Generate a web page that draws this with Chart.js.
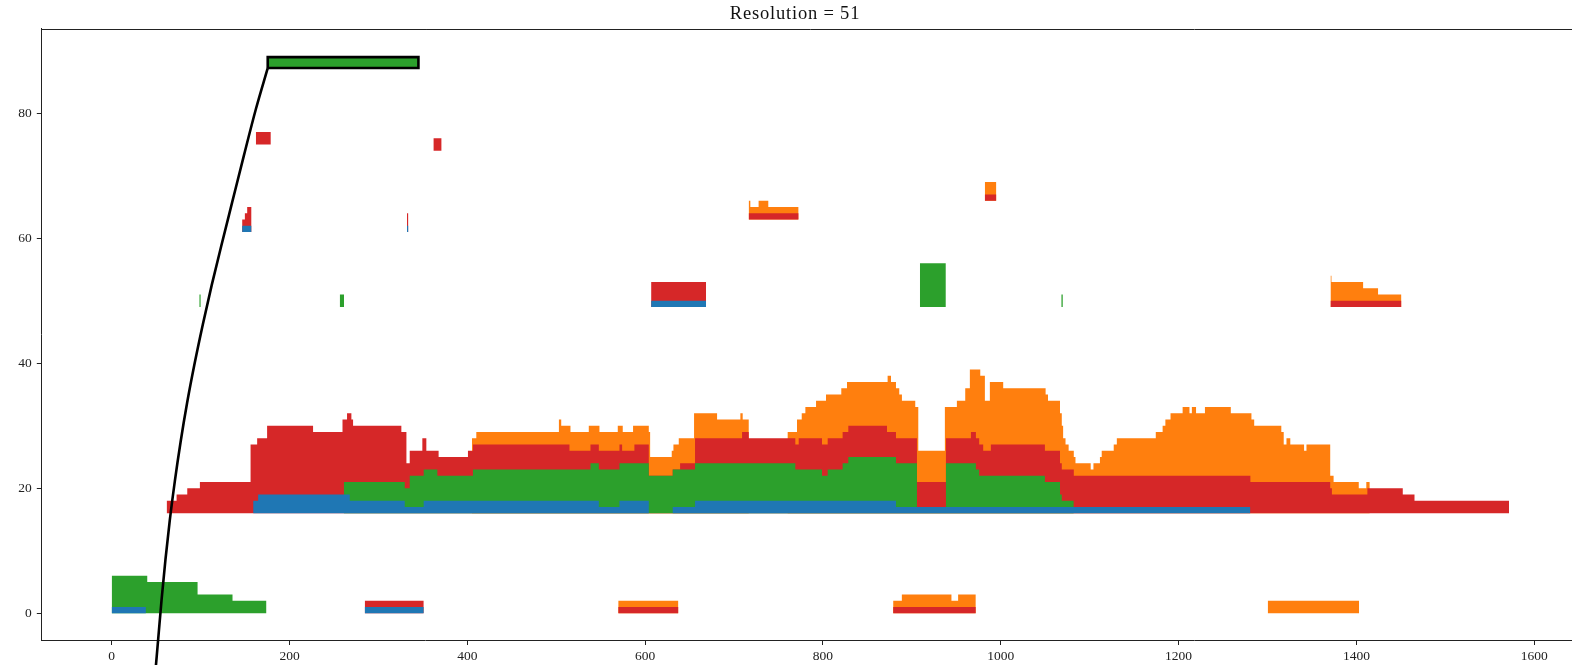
<!DOCTYPE html>
<html>
<head>
<meta charset="utf-8">
<title>Resolution = 51</title>
<script src="https://cdn.jsdelivr.net/npm/chart.js@4.4.1/dist/chart.umd.min.js"></script>
<style>
    html, body { margin: 0; padding: 0; background: #fff; overflow: hidden; }
    #wrap { width: 1590px; height: 665px; }
</style>
</head>
<body>
<div id="wrap"><canvas id="chart" width="1590" height="665"></canvas></div>
<script>
// Step series: each [x, level] holds its level until the next x; the last pair closes the run.
// Levels are the top edge of each layer, stacked blue < green < red < orange over the band base.

// main band, base 16
const mainBlue = [[159.1, 18], [164.7, 19], [267.8, 18], [329.6, 17], [350.9, 18], [547.9, 17], [571.1, 18],
    [604.1, 16], [631, 17], [656.1, 18], [882.1, 17], [1280.7, 17]];
const mainGreen = [[261, 21], [329.6, 20], [335.2, 22], [350.9, 23], [366.3, 22], [406.3, 23], [538.5, 24],
    [547.9, 23], [571.1, 24], [604.1, 22], [631, 23], [656.1, 24], [768.9, 23], [798.9, 22], [805.3, 23],
    [822.1, 24], [828.5, 25], [882.1, 24], [905.7, 17], [938.3, 24], [972, 23], [975.7, 22], [1049.6, 21],
    [1066.6, 19], [1068.6, 18], [1082.1, 18]];
const mainRed = [[61.8, 18], [73, 19], [85, 20], [99.2, 21], [156.2, 27], [163.6, 28], [174.8, 30], [226.5, 29],
    [259.6, 31], [264.7, 32], [269.6, 31], [271.5, 30], [325.8, 29], [331.5, 24], [335.2, 26], [349.4, 28],
    [353.9, 26], [367.7, 25], [400.7, 26], [406.3, 27], [514.9, 26], [538.5, 27], [547.9, 26], [571.1, 27],
    [574.1, 26], [587.9, 27], [604.1, 22], [631, 23], [639.3, 24], [656.1, 28], [709, 29], [716.5, 28],
    [768.9, 27], [772.7, 28], [798.9, 27], [805.3, 28], [822.1, 29], [828.5, 30], [872, 29], [882.1, 28],
    [905.7, 21], [938.3, 28], [966.4, 29], [972, 28], [975.7, 27], [980.2, 26], [988.8, 27], [1049.6, 26],
    [1066.6, 24], [1068.6, 23], [1082.1, 22], [1280.7, 21], [1370.5, 20], [1372.4, 19], [1412.3, 20],
    [1452.1, 19], [1465.3, 18], [1571.6, 18]];
const mainOrange = [[405.2, 28], [410.1, 29], [503, 31], [505.6, 30], [516, 29], [536.6, 30], [548.6, 29],
    [569.2, 30], [574.8, 29], [586.4, 30], [604.1, 29], [605.6, 25], [629.9, 26], [631.8, 27], [637.8, 28],
    [655, 32], [680.9, 31], [707.1, 32], [709.7, 31], [716.5, 16], [760.3, 29], [770.8, 31], [776.1, 32],
    [780.2, 33], [792.2, 34], [803.4, 35], [820.6, 36], [827, 37], [872.7, 38], [876.5, 37], [882.1, 36],
    [885.8, 35], [888.8, 34], [903.8, 33], [907.2, 26], [937.1, 33], [950.6, 34], [960, 36], [965.2, 39],
    [976.9, 38], [982.1, 34], [987.7, 37], [1002.7, 36], [1050.4, 35], [1053.1, 34], [1066.6, 32],
    [1068.6, 30], [1070.1, 28], [1072.8, 27], [1076.3, 26], [1082.1, 25], [1084, 24], [1101.1, 23],
    [1104.2, 24], [1111.5, 25], [1113.5, 26], [1127, 27], [1130.5, 28], [1174.3, 29], [1182, 30],
    [1185.1, 31], [1190.9, 32], [1204.5, 33], [1212.2, 32], [1214.9, 33], [1219.6, 32], [1229.6, 33],
    [1258.7, 32], [1281.9, 31], [1285, 30], [1315.5, 29], [1318.2, 27], [1321.3, 28], [1325.6, 27],
    [1341.1, 26], [1343.8, 27], [1370.5, 22], [1374.3, 21], [1402.6, 20], [1411.1, 21], [1415, 21]];

// bottom row, base 0
const lowBlueA = [[0, 1], [38.5, 1]];
const lowGreenA = [[0, 6], [40, 5], [96.6, 3], [135.9, 2], [174.1, 2]];
const lowBlueB = [[284.6, 1], [351, 1]];
const lowRedB = [[284.6, 2], [351, 2]];
const lowRedC = [[569.7, 1], [637.4, 1]];
const lowOrangeC = [[569.7, 2], [637.4, 2]];
const lowRedD = [[878.9, 1], [971.9, 1]];
const lowOrangeD = [[878.9, 2], [888.7, 3], [944.5, 2], [952, 3], [971.9, 3]];
const lowOrangeE = [[1300.2, 2], [1403, 2]];

// row at 49
const midGreenA = [[98.5, 51], [100.2, 51]];
const midGreenB = [[256.5, 51], [261.3, 51]];
const midBlueC = [[606.7, 50], [668.5, 50]];
const midRedC = [[606.7, 53], [668.5, 53]];
const midGreenD = [[909, 56], [938.2, 56]];
const midGreenE = [[1068, 51], [1069.8, 51]];
const midRedF = [[1370.8, 50], [1450.6, 50]];
const midOrangeF = [[1370.8, 54], [1371.9, 53], [1407.5, 52], [1424.3, 51], [1450.6, 51]];

// upper rows
const upBlueA = [[146.7, 62], [157.3, 62]];          // base 61
const upRedA = [[146.7, 63], [149.8, 64], [152.4, 65], [157.3, 65]];
const upBlueB = [[332.1, 62], [333.7, 62]];          // base 61
const upRedB = [[332.1, 64], [333.7, 64]];
const upRedC = [[716.4, 64], [772.6, 64]];           // base 63
const upOrangeC = [[716.4, 66], [718.3, 65], [727.6, 66], [738.5, 65], [772.6, 65]];
const upRedD = [[982, 67], [995, 67]];               // base 66
const upOrangeD = [[982, 69], [995, 69]];
const topRedA = [[162.1, 77], [179, 77]];            // base 75
const topRedB = [[361.8, 76], [371.1, 76]];          // base 74
const boxGreen = [[175.5, 89], [345, 89]];           // base 87.25

// black curve rising into the outlined box
const curveX = [49.8, 52.4, 56.2, 60.5, 65.3, 71.0, 77.5, 84.9, 93.2, 102.5, 112.5, 123.3, 135.4, 148.6, 162.2, 175.5];
const curveY = [-8.3, -4.0, 2.3, 8.6, 14.8, 21.1, 27.4, 33.7, 39.9, 46.2, 52.5, 58.8, 65.7, 73.2, 80.7, 87.25];
const boxX = [175.5, 175.5, 345, 345, 175.5];
const boxY = [87.25, 89, 89, 87.25, 87.25];

const xTicks = [0, 200, 400, 600, 800, 1000, 1200, 1400, 1600];
const yTicks = [0, 20, 40, 60, 80];
const titleText = 'Resolution = 51';

const COLORS = { blue: '#1f77b4', green: '#2ca02c', red: '#d62728', orange: '#ff7f0e' };
const LAYER_ORDER = { blue: 1, green: 2, red: 3, orange: 4 };

const datasets = [];

// one filled step area per layer, painted from the base so lower layers cover upper ones
function band(base, layers) {
    Object.keys(layers).forEach(name => {
        datasets.push({
            data: layers[name].map(([x, y]) => ({ x, y })),
            stepped: true,
            fill: { value: base },
            backgroundColor: COLORS[name],
            borderColor: 'rgba(0,0,0,0)',
            borderWidth: 0,
            pointRadius: 0,
            order: LAYER_ORDER[name]
        });
    });
}

band(16, { blue: mainBlue, green: mainGreen, red: mainRed, orange: mainOrange });
band(0, { blue: lowBlueA, green: lowGreenA });
band(0, { blue: lowBlueB, red: lowRedB });
band(0, { red: lowRedC, orange: lowOrangeC });
band(0, { red: lowRedD, orange: lowOrangeD });
band(0, { orange: lowOrangeE });
band(49, { green: midGreenA });
band(49, { green: midGreenB });
band(49, { blue: midBlueC, red: midRedC });
band(49, { green: midGreenD });
band(49, { green: midGreenE });
band(49, { red: midRedF, orange: midOrangeF });
band(61, { blue: upBlueA, red: upRedA });
band(61, { blue: upBlueB, red: upRedB });
band(63, { red: upRedC, orange: upOrangeC });
band(66, { red: upRedD, orange: upOrangeD });
band(75, { red: topRedA });
band(74, { red: topRedB });
band(87.25, { green: boxGreen });

datasets.push({
    data: curveX.map((x, i) => ({ x, y: curveY[i] })),
    borderColor: '#000',
    borderWidth: 2.6,
    cubicInterpolationMode: 'monotone',
    pointRadius: 0,
    fill: false,
    clip: false,
    order: 0
});
datasets.push({
    data: boxX.map((x, i) => ({ x, y: boxY[i] })),
    borderColor: '#000',
    borderWidth: 2.6,
    borderJoinStyle: 'miter',
    pointRadius: 0,
    fill: false,
    clip: false,
    order: 0
});

// top spine and title, matplotlib style
const frame = {
    id: 'frame',
    afterDatasetsDraw(chart) {
        const { ctx, chartArea: a } = chart;
        ctx.save();
        ctx.strokeStyle = '#222';
        ctx.lineWidth = 1;
        ctx.beginPath();
        ctx.moveTo(a.left, Math.round(a.top) + 0.5);
        ctx.lineTo(a.right, Math.round(a.top) + 0.5);
        ctx.stroke();

        ctx.fillStyle = '#111';
        ctx.font = "18.5px 'Liberation Serif', 'DejaVu Serif', serif";
        ctx.letterSpacing = '0.8px';
        ctx.textAlign = 'center';
        ctx.textBaseline = 'middle';
        ctx.fillText(titleText, 795, 14.5);
        ctx.restore();
    }
};

const tickFont = { family: "'Liberation Serif', 'DejaVu Serif', serif", size: 13.5 };

new Chart(document.getElementById('chart'), {
    type: 'line',
    data: { datasets },
    plugins: [frame],
    options: {
        responsive: false,
        animation: false,
        events: [],
        devicePixelRatio: 1,
        layout: { padding: { left: 0, right: 11.1, top: 28.7, bottom: 0 } },
        elements: { line: { capBezierPoints: false } },
        plugins: {
            legend: { display: false },
            tooltip: { enabled: false },
            title: { display: false }
        },
        scales: {
            x: {
                type: 'linear',
                min: -78.6,
                max: 1650.2,
                afterBuildTicks: s => { s.ticks = xTicks.map(v => ({ value: v })); },
                afterFit: s => { s.height = 25; },
                grid: { drawOnChartArea: false, drawTicks: true, tickLength: 5, color: '#222' },
                border: { display: true, color: '#222', width: 1 },
                ticks: { color: '#222', font: tickFont, padding: 3, maxRotation: 0, callback: v => String(v) }
            },
            y: {
                type: 'linear',
                min: -4.3,
                max: 93.55,
                afterBuildTicks: s => { s.ticks = yTicks.map(v => ({ value: v })); },
                afterFit: s => { s.width = 41.8; },
                grid: { drawOnChartArea: false, drawTicks: true, tickLength: 5, color: '#222' },
                border: { display: true, color: '#222', width: 1 },
                ticks: { color: '#222', font: tickFont, padding: 5, callback: v => String(v) }
            }
        }
    }
});
</script>
</body>
</html>
